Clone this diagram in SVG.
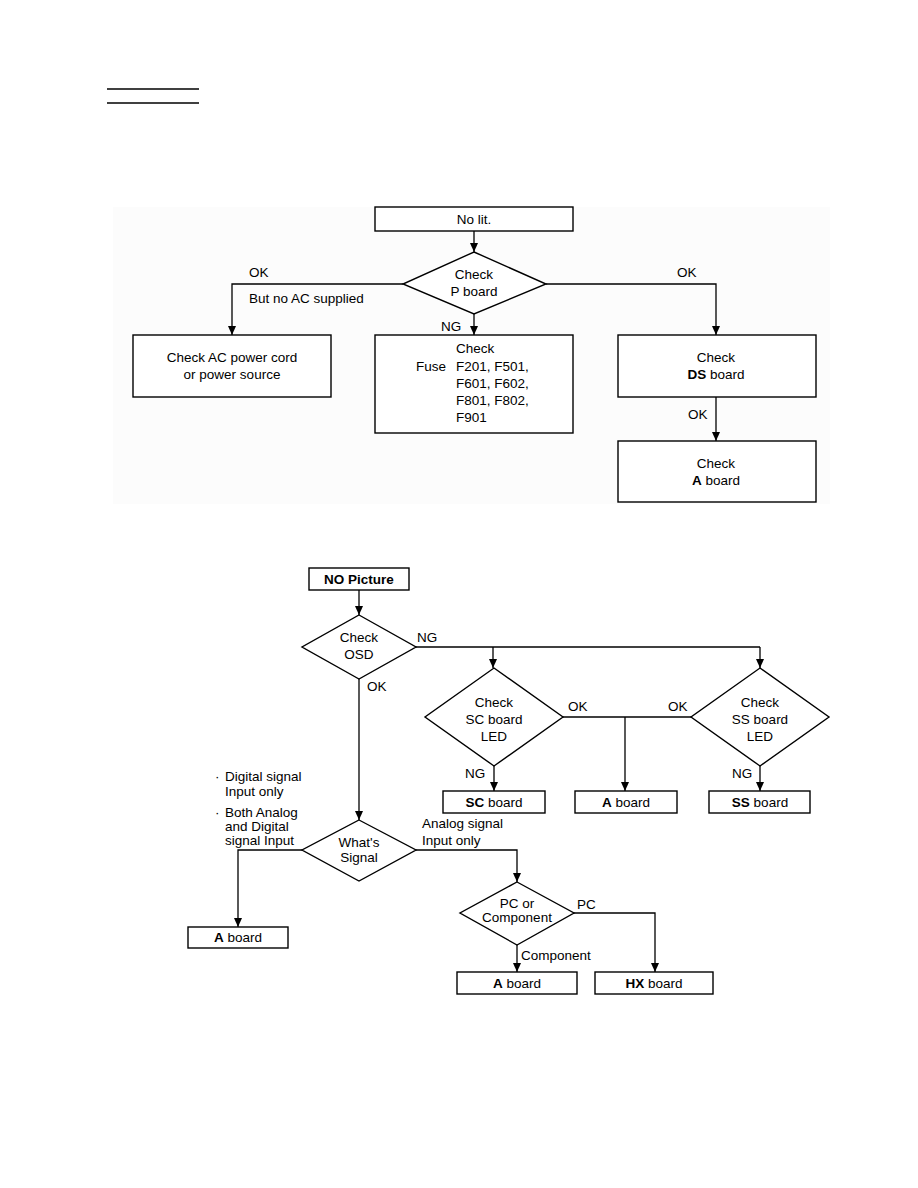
<svg xmlns="http://www.w3.org/2000/svg" width="918" height="1188" viewBox="0 0 918 1188">
<defs>
<marker id="ah" markerWidth="10" markerHeight="10" refX="9" refY="5" orient="auto" markerUnits="userSpaceOnUse">
<path d="M0,1 L9,5 L0,9 Z" fill="#000"/>
</marker>
<style>
.box{fill:#fff;stroke:#000;stroke-width:1.4}
.bg{fill:#fcfcfc}
.ln{fill:none;stroke:#000;stroke-width:1.3}
.ar{fill:none;stroke:#000;stroke-width:1.3;marker-end:url(#ah)}
text{font-family:"Liberation Sans",Arial,sans-serif;font-size:13.5px;fill:#000}
.c{text-anchor:middle}
.b{font-weight:bold}
</style>
</defs>
<rect width="918" height="1188" fill="#fff"/>
<line x1="107" y1="89" x2="199" y2="89" stroke="#000" stroke-width="1.5"/>
<line x1="107" y1="103" x2="199" y2="103" stroke="#000" stroke-width="1.5"/>
<rect class="bg" x="113" y="207" width="717" height="297"/>

<g id="connectors">
<line class="ar" x1="474" y1="231" x2="474" y2="252"/>
<polyline class="ar" points="403,284 232,284 232,335"/>
<line class="ar" x1="474" y1="314" x2="474" y2="335"/>
<polyline class="ar" points="546,284 716,284 716,335"/>
<line class="ar" x1="716" y1="397" x2="716" y2="441"/>

<line class="ar" x1="359" y1="590" x2="359" y2="615"/>
<line class="ln" x1="416" y1="647" x2="760" y2="647"/>
<line class="ar" x1="493" y1="647" x2="493" y2="668"/>
<line class="ar" x1="760" y1="647" x2="760" y2="668"/>
<line class="ar" x1="359" y1="679" x2="359" y2="820"/>
<line class="ln" x1="563" y1="717" x2="691" y2="717"/>
<line class="ar" x1="625" y1="717" x2="625" y2="791"/>
<line class="ar" x1="494" y1="766" x2="494" y2="791"/>
<line class="ar" x1="760" y1="766" x2="760" y2="791"/>
<polyline class="ar" points="302,850 238,850 238,927"/>
<polyline class="ar" points="416,850 517,850 517,882"/>
<polyline class="ar" points="574,913 655,913 655,972"/>
<line class="ar" x1="517" y1="945" x2="517" y2="972"/>
</g>

<g id="labels">
<text x="249" y="277">OK</text>
<text x="249" y="303">But no AC supplied</text>
<text x="441" y="331">NG</text>
<text x="677" y="277">OK</text>
<text x="688" y="419">OK</text>
<text x="417" y="642">NG</text>
<text x="367" y="691">OK</text>
<text x="568" y="711">OK</text>
<text x="668" y="711">OK</text>
<text x="465" y="778">NG</text>
<text x="732" y="778">NG</text>
<text x="215" y="781">·</text>
<text x="225" y="781">Digital signal</text>
<text x="225" y="796">Input only</text>
<text x="215" y="817">·</text>
<text x="225" y="817">Both Analog</text>
<text x="225" y="831">and Digital</text>
<text x="225" y="845">signal Input</text>
<text x="422" y="828">Analog signal</text>
<text x="422" y="845">Input only</text>
<text x="577" y="909">PC</text>
<text x="521" y="960">Component</text>
</g>

<g id="n-nolit"><rect class="box" x="375" y="207" width="198" height="24"/><text class="c" x="474" y="224">No lit.</text></g>
<g id="n-checkp"><polygon class="box" points="474,252 546,284 474,314 403,284"/><text class="c" x="474" y="279">Check</text><text class="c" x="474" y="296">P board</text></g>
<g id="n-acpower"><rect class="box" x="133" y="335" width="198" height="62"/><text class="c" x="232" y="362">Check AC power cord</text><text class="c" x="232" y="379">or power source</text></g>
<g id="n-fuse"><rect class="box" x="375" y="335" width="198" height="98"/><text x="456" y="353">Check</text><text x="416" y="371">Fuse</text><text x="456" y="371">F201, F501,</text><text x="456" y="388">F601, F602,</text><text x="456" y="405">F801, F802,</text><text x="456" y="422">F901</text></g>
<g id="n-ds"><rect class="box" x="618" y="335" width="198" height="62"/><text class="c" x="716" y="362">Check</text><text class="c" x="716" y="379"><tspan class="b">DS</tspan> board</text></g>
<g id="n-a1"><rect class="box" x="618" y="441" width="198" height="61"/><text class="c" x="716" y="468">Check</text><text class="c" x="716" y="485"><tspan class="b">A</tspan> board</text></g>

<g id="n-nopic"><rect class="box" x="309" y="568" width="100" height="22"/><text class="c b" x="359" y="584">NO Picture</text></g>
<g id="n-osd"><polygon class="box" points="359,615 416,647 359,679 302,647"/><text class="c" x="359" y="642">Check</text><text class="c" x="359" y="659">OSD</text></g>
<g id="n-scled"><polygon class="box" points="494,668 563,717 494,766 425,717"/><text class="c" x="494" y="707">Check</text><text class="c" x="494" y="724">SC board</text><text class="c" x="494" y="741">LED</text></g>
<g id="n-ssled"><polygon class="box" points="760,668 829,717 760,766 691,717"/><text class="c" x="760" y="707">Check</text><text class="c" x="760" y="724">SS board</text><text class="c" x="760" y="741">LED</text></g>
<g id="n-sc"><rect class="box" x="443" y="791" width="102" height="22"/><text class="c" x="494" y="807"><tspan class="b">SC</tspan> board</text></g>
<g id="n-a2"><rect class="box" x="575" y="791" width="102" height="22"/><text class="c" x="626" y="807"><tspan class="b">A</tspan> board</text></g>
<g id="n-ss"><rect class="box" x="709" y="791" width="101" height="22"/><text class="c" x="760" y="807"><tspan class="b">SS</tspan> board</text></g>
<g id="n-signal"><polygon class="box" points="359,820 416,850 359,881 302,850"/><text class="c" x="359" y="847">What's</text><text class="c" x="359" y="862">Signal</text></g>
<g id="n-a3"><rect class="box" x="188" y="927" width="100" height="21"/><text class="c" x="238" y="942"><tspan class="b">A</tspan> board</text></g>
<g id="n-pc"><polygon class="box" points="517,882 574,913 517,945 460,913"/><text class="c" x="517" y="908">PC or</text><text class="c" x="517" y="922">Component</text></g>
<g id="n-a4"><rect class="box" x="457" y="972" width="120" height="22"/><text class="c" x="517" y="988"><tspan class="b">A</tspan> board</text></g>
<g id="n-hx"><rect class="box" x="595" y="972" width="118" height="22"/><text class="c" x="654" y="988"><tspan class="b">HX</tspan> board</text></g>
</svg>
